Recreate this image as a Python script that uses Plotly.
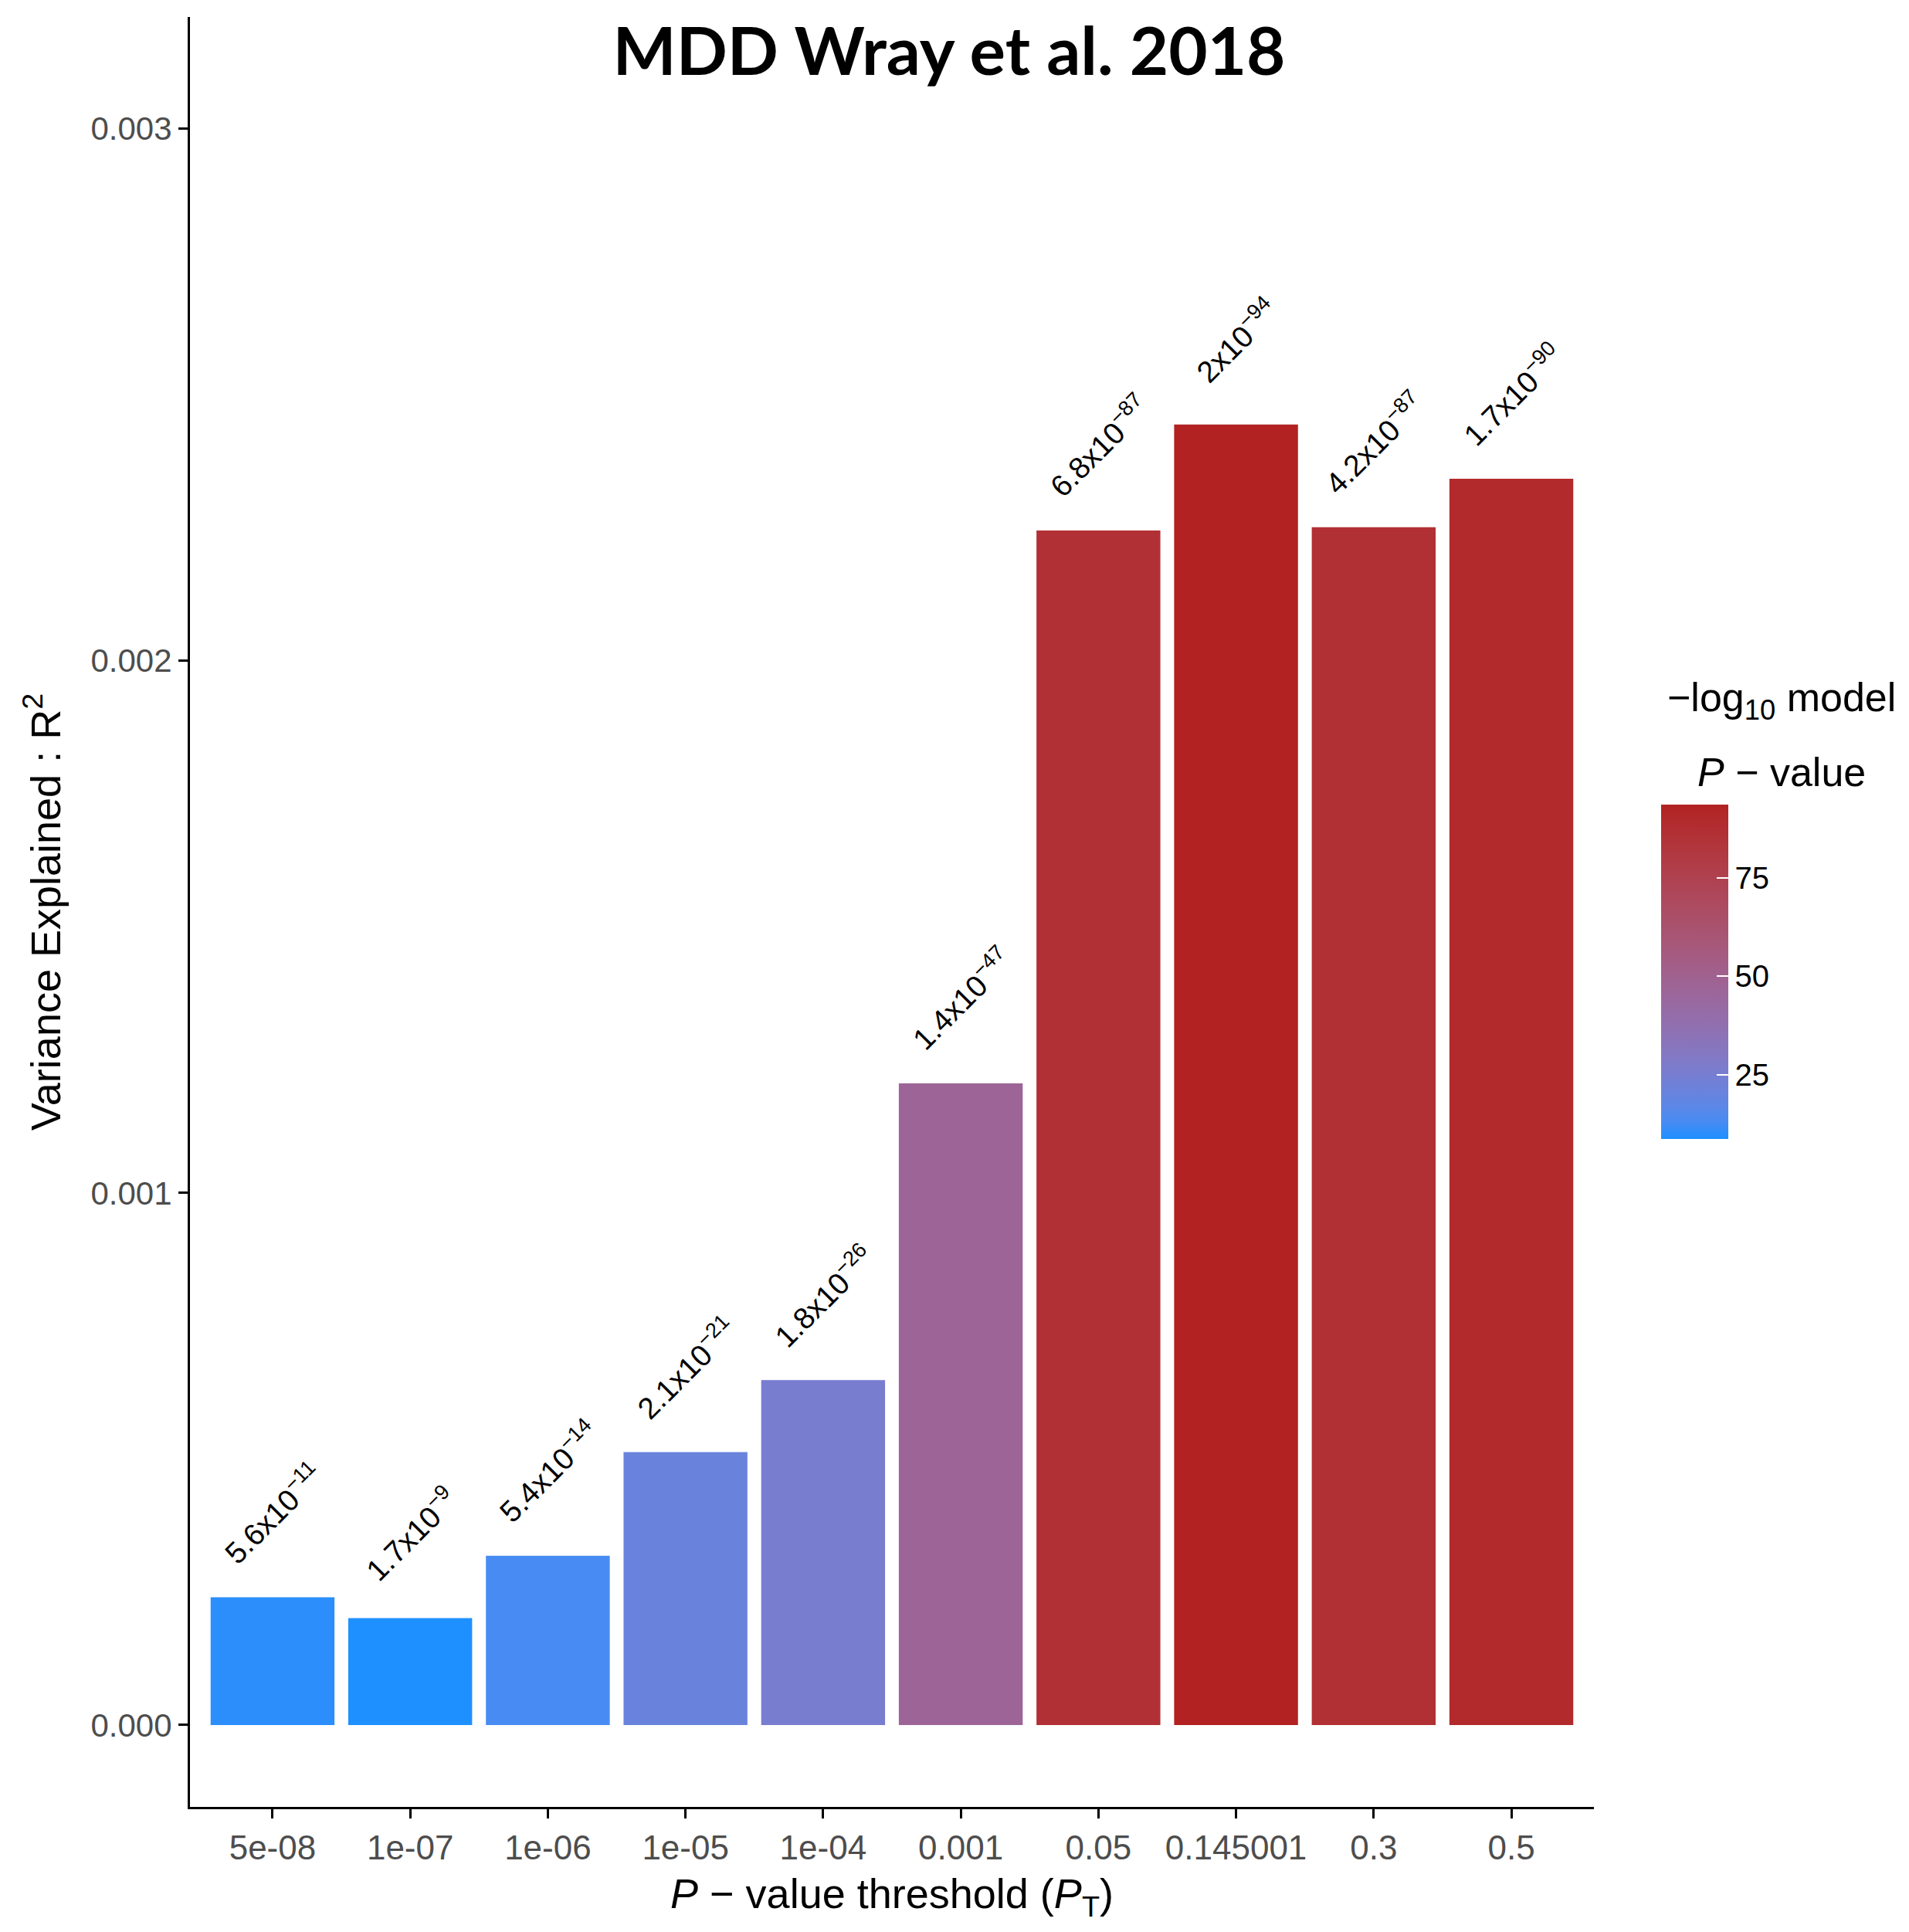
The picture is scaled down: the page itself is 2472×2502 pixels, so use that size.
import plotly.graph_objects as go
import math

# ---------------- data ----------------
thresholds = ["5e-08", "1e-07", "1e-06", "1e-05", "1e-04", "0.001", "0.05", "0.145001", "0.3", "0.5"]
r2_values = [0.000240, 0.000201, 0.000318, 0.000513, 0.000648, 0.001206, 0.002245, 0.002444, 0.002251, 0.002342]
p_mantissa = [5.6, 1.7, 5.4, 2.1, 1.8, 1.4, 6.8, 2.0, 4.2, 1.7]
p_exponent = [-11, -9, -14, -21, -26, -47, -87, -94, -87, -90]
y_ticks = [0.000, 0.001, 0.002, 0.003]
cbar_ticks = [25, 50, 75]

neglog = [-(math.log10(m) + e) for m, e in zip(p_mantissa, p_exponent)]
labels = [("%g" % m) + "x10<sup>\u2212%d</sup>" % (-e) for m, e in zip(p_mantissa, p_exponent)]

# ---------------- colour scale (Lab interpolation, like ggplot) ----------------
LOW = (30, 144, 255)    # dodgerblue
HIGH = (178, 34, 34)    # firebrick
WN = (0.95047, 1.0, 1.08883)

def to_lab(rgb):
    def lin(c):
        c = c / 255.0
        return c / 12.92 if c <= 0.04045 else ((c + 0.055) / 1.055) ** 2.4
    r, g, b = (lin(c) for c in rgb)
    X = 0.4124 * r + 0.3576 * g + 0.1805 * b
    Y = 0.2126 * r + 0.7152 * g + 0.0722 * b
    Z = 0.0193 * r + 0.1192 * g + 0.9505 * b
    def f(t):
        return t ** (1 / 3) if t > (6 / 29) ** 3 else t / (3 * (6 / 29) ** 2) + 4 / 29
    fx, fy, fz = f(X / WN[0]), f(Y / WN[1]), f(Z / WN[2])
    return (116 * fy - 16, 500 * (fx - fy), 200 * (fy - fz))

def from_lab(lab):
    L, a, b = lab
    fy = (L + 16) / 116
    fx = fy + a / 500
    fz = fy - b / 200
    def finv(t):
        return t ** 3 if t > 6 / 29 else 3 * (6 / 29) ** 2 * (t - 4 / 29)
    X, Y, Z = WN[0] * finv(fx), WN[1] * finv(fy), WN[2] * finv(fz)
    r = 3.2406 * X - 1.5372 * Y - 0.4986 * Z
    g = -0.9689 * X + 1.8758 * Y + 0.0415 * Z
    bb = 0.0557 * X - 0.2040 * Y + 1.0570 * Z
    def gam(c):
        c = 12.92 * c if c <= 0.0031308 else 1.055 * c ** (1 / 2.4) - 0.055
        return int(round(min(max(c, 0), 1) * 255))
    return "rgb(%d,%d,%d)" % (gam(r), gam(g), gam(bb))

la, lb = to_lab(LOW), to_lab(HIGH)
n = 20
colorscale = [[i / n, from_lab(tuple(la[k] + (lb[k] - la[k]) * i / n for k in range(3)))] for i in range(n + 1)]

# ---------------- figure ----------------
W, H = 2472, 2502
FONT = "Liberation Sans, Arial, sans-serif"

# colour-bar geometry (pixels)
CB_LEFT, CB_THICK, CB_LEN, CB_MID = 2151, 87, 433, 1258
cmin, cmax = min(neglog), max(neglog)

fig = go.Figure()
fig.add_trace(go.Bar(
    x=thresholds,
    y=r2_values,
    width=0.9,
    marker=dict(
        color=neglog,
        colorscale=colorscale,
        cmin=cmin,
        cmax=cmax,
        line=dict(width=0),
        showscale=True,
        colorbar=dict(
            tickvals=cbar_ticks,
            ticks="inside",
            ticklen=15,
            tickcolor="white",
            tickwidth=2,
            tickfont=dict(family=FONT, size=40, color="black"),
            outlinewidth=0,
            thickness=CB_THICK,
            thicknessmode="pixels",
            len=CB_LEN,
            lenmode="pixels",
            x=CB_LEFT / W,
            xanchor="left",
            y=1 - CB_MID / H,
            yanchor="middle",
            xpad=0,
            ypad=0,
        ),
    ),
    hoverinfo="x+y",
))

# white tick marks on the left edge of the colour bar (ggplot style)
cb_top = CB_MID - CB_LEN / 2
for v in cbar_ticks:
    ypx = cb_top + (cmax - v) / (cmax - cmin) * CB_LEN
    fig.add_shape(
        type="line", xref="paper", yref="paper",
        x0=CB_LEFT / W, x1=(CB_LEFT + 15) / W,
        y0=1 - ypx / H, y1=1 - ypx / H,
        line=dict(color="white", width=2),
    )

# bar value labels (model p-values)
for i, (yval, lab) in enumerate(zip(r2_values, labels)):
    fig.add_annotation(
        x=i, y=yval, text=lab, textangle=-45, showarrow=False,
        xanchor="center", yanchor="middle", yshift=110,
        font=dict(family=FONT, size=39, color="black"),
    )

# colour-bar title (centred, two lines)
fig.add_annotation(
    xref="paper", yref="paper",
    x=2307 / W, y=1 - 907 / H,
    xanchor="center", yanchor="middle",
    text="\u2212log<sub>10</sub> model",
    showarrow=False,
    font=dict(family=FONT, size=52, color="black"),
)
fig.add_annotation(
    xref="paper", yref="paper",
    x=2307 / W, y=1 - 1000 / H,
    xanchor="center", yanchor="middle",
    text="<i>P</i> \u2212 value",
    showarrow=False,
    font=dict(family=FONT, size=52, color="black"),
)

fig.update_layout(
    width=W, height=H,
    margin=dict(l=0, r=0, t=0, b=0),
    paper_bgcolor="white",
    plot_bgcolor="white",
    showlegend=False,
    bargap=0.1,
    title=dict(
        text="<b>MDD Wray et al. 2018</b>",
        x=1229 / W, xanchor="center",
        y=1 - 67 / H, yanchor="middle",
        font=dict(family="Lato, Open Sans, sans-serif", size=87, color="black"),
    ),
    xaxis=dict(
        type="category",
        domain=[246 / W, 2064 / W],
        range=[-0.6, 9.6],
        showline=True, linecolor="black", linewidth=3,
        ticks="outside", ticklen=12, tickwidth=3, tickcolor="black",
        tickfont=dict(family=FONT, size=44, color="#4D4D4D"),
        showgrid=False, zeroline=False,
        automargin=False,
        title=dict(
            text="<i>P</i> \u2212 value threshold (<i>P</i><sub>T</sub>)",
            font=dict(family=FONT, size=54, color="black"),
            standoff=18,
        ),
    ),
    yaxis=dict(
        domain=[1 - 2340 / H, 1 - 22 / H],
        range=[-0.000154, 0.00321],
        tickvals=y_ticks,
        tickformat=".3f",
        showline=True, linecolor="black", linewidth=3,
        ticks="outside", ticklen=12, tickwidth=3, tickcolor="black",
        tickfont=dict(family=FONT, size=42, color="#4D4D4D"),
        showgrid=False, zeroline=False,
        automargin=False,
        title=dict(
            text="Variance Explained : R<sup>2</sup>",
            font=dict(family=FONT, size=54, color="black"),
            standoff=22,
        ),
    ),
)

fig.write_html("out.html")
